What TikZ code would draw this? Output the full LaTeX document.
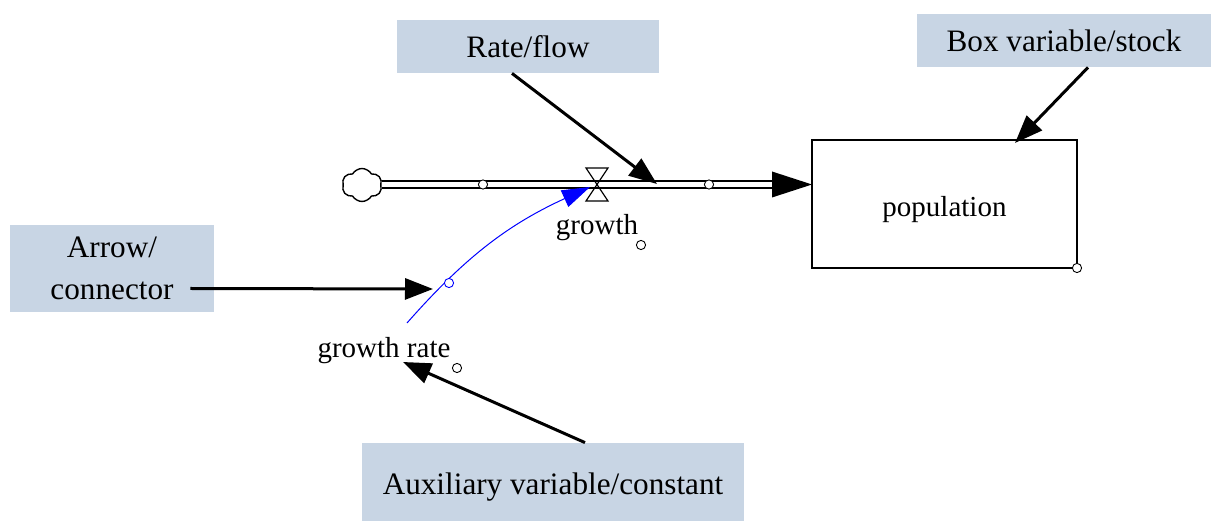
\documentclass[tikz,border=0pt]{standalone}
\usepackage{fontspec}
\setmainfont{Liberation Serif}
\usetikzlibrary{positioning,arrows.meta,shapes.symbols}
\definecolor{labelblue}{RGB}{200,213,228}
\definecolor{linkblue}{RGB}{0,0,255}

\begin{document}
\begin{tikzpicture}[x=0.5pt, y=-0.5pt]
    \tikzset{tag/.style={rectangle, fill=labelblue, inner sep=0pt, align=center, font=\fontsize{15.6}{21}\selectfont}}
    \tikzset{word/.style={inner sep=0pt, font=\fontsize{14.5}{17}\selectfont}}
    \tikzset{handle/.style={circle, draw, fill=white, line width=0.45pt, minimum size=4.6pt, inner sep=0pt}}
    \tikzset{pointer/.style={draw, line width=1.5pt, -{Triangle[length=14pt, width=10.5pt]}}}
    \tikzset{pipe/.style={draw, double, line width=0.8pt, double distance=2.6pt}}
    \tikzset{link/.style={draw=linkblue, line width=0.5pt, -{Triangle[length=14pt, width=9pt, fill=linkblue]}}}

    \useasboundingbox (0,0) rectangle (1216,523);

    % Labels
    \node [tag, minimum width=131pt, minimum height=26.5pt] (rate) at (528,46.5) {Rate/flow};
    \node [tag, minimum width=147pt, minimum height=26.5pt] (stocktag) at (1064,40.5) {Box variable/stock};
    \node [tag, minimum width=102pt, minimum height=43.5pt] (arrowtag) at (112,268.5) {Arrow/\\connector};
    \node [tag, minimum width=191pt, minimum height=39pt] (auxtag) at (553,482) {\raisebox{-2.5pt}[\height][\depth]{Auxiliary variable/constant}};

    % Stock and flow
    \node [rectangle, draw, line width=0.7pt, minimum width=132.5pt, minimum height=64pt, word] (pop) at (944.5,204) {\raisebox{-3pt}[\height][\depth]{population}};
    \node [handle] (h_pop) at (1077,268) {};
    \node [cloud, draw, line width=0.7pt, cloud puffs=6, cloud puff arc=120, aspect=1.3, minimum width=20pt, minimum height=16.5pt, inner sep=0pt] (cloud) at (362,185) {};
    \coordinate (pipeend) at (772,184.5);
    \coordinate (poptip) at (812,184.5);
    \path [pipe] (cloud.east |- pipeend) -- (pipeend);
    \fill ([yshift=6.5pt]pipeend) -- (poptip) -- ([yshift=-6.5pt]pipeend) -- cycle;
    \node [handle] (h1) at (483,184.5) {};
    \node [handle] (h2) at (709,184.5) {};
    \coordinate (valve) at (597,184);
    \draw [line width=0.6pt] (586,168) -- (608,168) -- (586,201) -- (608,201) -- cycle;
    \node [word] (growth) at (597,228) {growth};
    \node [handle] (h_growth) at (641,245) {};

    % Auxiliary
    \node [word] (grate) at (384,351) {growth rate};
    \node [handle] (h_grate) at (457,368) {};
    \coordinate (linkstart) at (407,323);
    \coordinate (linkend) at (590,187);
    \path [link] (linkstart) to[bend left=12] (linkend);
    \node [handle, draw=linkblue] (h_link) at (449,283) {};

    % Pointers
    \coordinate (flowtip) at (657,184);
    \coordinate (boxtip) at (1015,143);
    \coordinate (linktip) at (433,289);
    \coordinate (auxtip) at (403,362);
    \path [pointer] ([xshift=-8pt]rate.south) -- (flowtip);
    \path [pointer] ([xshift=12pt]stocktag.south) -- (boxtip);
    \path [pointer] ([xshift=-12pt, yshift=-10pt]arrowtag.east) -- (linktip);
    \path [pointer] ([xshift=16pt]auxtag.north) -- (auxtip);
\end{tikzpicture}
\end{document}
